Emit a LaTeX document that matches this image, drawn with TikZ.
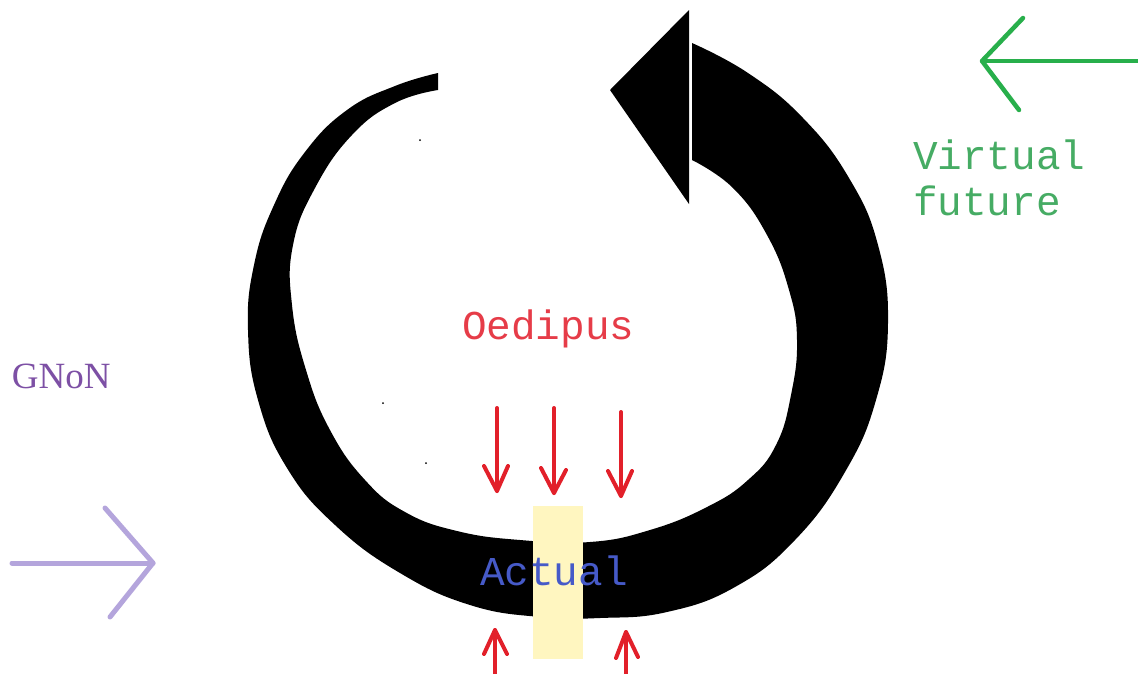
\documentclass[tikz,border=0pt]{standalone}
\usepackage{fontspec}
\newfontfamily\courfont{Liberation Mono}
\newfontfamily\timesfont{Liberation Serif}
\definecolor{redarr}{RGB}{226,32,42}
\definecolor{oedred}{RGB}{230,60,72}
\definecolor{virtgreen}{RGB}{70,172,100}
\definecolor{arrgreen}{RGB}{40,175,75}
\definecolor{actblue}{RGB}{70,90,200}
\definecolor{gnonpurple}{RGB}{125,80,165}
\definecolor{lilac}{RGB}{180,165,220}
\definecolor{cream}{RGB}{255,246,192}
\tikzset{
  redline/.style={draw=redarr, line width=4pt, line cap=round, line join=round},
  lbl/.style={anchor=base west, inner sep=0pt, outer sep=0pt},
  speck/.style={fill=black},
}
\begin{document}
\begin{tikzpicture}[x=1pt,y=-1pt]
\useasboundingbox (0,0) rectangle (1138,673);
\fill[white] (0,0) rectangle (1138,673);

% black ring body
\fill[black] plot[smooth, tension=0.75] coordinates {(438,73) (395,86) (347,110) (305,152) (274,205) (254,265) (248,330) (258,400) (287,468) (335,525) (400,573) (470,605) (540,617) (600,618) (667,612) (735,587) (795,540) (845,472) (876,400) (888,323) (878,245) (849,178) (803,118) (748,73) (692,43)}
  -- plot[smooth, tension=0.75] coordinates {(692,160) (733,188) (767,235) (789,290) (797,340) (791,395) (776,445) (748,480) (707,507) (650,530) (590,542) (520,540) (457,531) (405,512) (365,480) (330,430) (306,370) (292,305) (293,245) (315,188) (352,135) (395,103) (438,90)}
  -- cycle;
% arrowhead
\coordinate (headtop) at (689,10);
\coordinate (headtip) at (610,90);
\coordinate (headbot) at (689,204);
\fill[black] (headtop) -- (headtip) -- (headbot) -- cycle;

% specks
\fill[speck] (420,140) circle (1);
\fill[speck] (383,403) circle (1);
\fill[speck] (426,463) circle (1);

% yellow bar
\fill[cream] (533,506) rectangle (583,659);
\node[lbl, font=\courfont\fontsize{41}{48}\selectfont, text=actblue] (actual) at (480,585) {Actual};

% red down arrows
\coordinate (d1s) at (497,408); \coordinate (d1t) at (497,491);
\coordinate (d2s) at (554,408); \coordinate (d2t) at (554,493);
\coordinate (d3s) at (621,412); \coordinate (d3t) at (621,496);
\draw[redline] (d1s) -- (d1t);
\draw[redline] (484,466) -- (d1t) -- (508,466);
\draw[redline] (d2s) -- (d2t);
\draw[redline] (541,468) -- (d2t) -- (566,470);
\draw[redline] (d3s) -- (d3t);
\draw[redline] (608,471) -- (d3t) -- (632,471);

% red up arrows
\coordinate (u1s) at (495,676); \coordinate (u1t) at (495,630);
\coordinate (u2s) at (626,676); \coordinate (u2t) at (626,632);
\draw[redline] (u1s) -- (u1t);
\draw[redline] (484,654) -- (u1t) -- (507,654);
\draw[redline] (u2s) -- (u2t);
\draw[redline] (616,658) -- (u2t) -- (638,657);

% labels
\node[lbl, font=\courfont\fontsize{41}{48}\selectfont, text=oedred] (oedipus) at (462,339) {Oedipus};
\node[lbl, font=\courfont\fontsize{41}{48}\selectfont, text=virtgreen] (virtual) at (913,169) {Virtual};
\node[lbl, font=\courfont\fontsize{41}{48}\selectfont, text=virtgreen] (future) at (913,215) {future};
\node[lbl, font=\timesfont\fontsize{37}{42}\selectfont, text=gnonpurple] (gnon) at (12,388) {GNoN};

% green arrow
\coordinate (gs) at (1140,61); \coordinate (gt) at (982,61);
\draw[arrgreen, line width=4.5pt, line cap=round, line join=round] (gs) -- (gt);
\draw[arrgreen, line width=4.5pt, line cap=round, line join=round] (1023,18) -- (gt) -- (1019,110);

% purple arrow
\coordinate (ps) at (12,563); \coordinate (pt) at (153,563);
\draw[lilac, line width=5pt, line cap=round, line join=round] (ps) -- (pt);
\draw[lilac, line width=5pt, line cap=round, line join=round] (105,508) -- (pt) -- (110,617);
\end{tikzpicture}
\end{document}
